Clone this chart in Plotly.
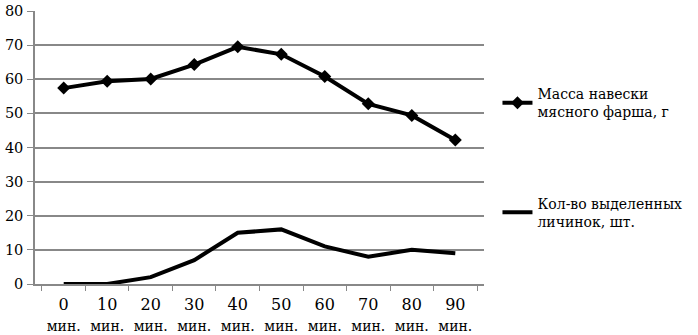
import plotly.graph_objects as go

minutes = ["0", "10", "20", "30", "40", "50", "60", "70", "80", "90"]
mass = [57.4, 59.4, 60.1, 64.3, 69.5, 67.3, 60.8, 52.8, 49.4, 42.2]
larvae = [0, 0, 2, 7, 15, 16, 11, 8, 10, 9]
y_ticks = [0, 10, 20, 30, 40, 50, 60, 70, 80]

FONT = "DejaVu Serif"
cats = [f"{m}<br><span style='font-size:14px'>мин.</span>" for m in minutes]

fig = go.Figure()
fig.add_trace(go.Scatter(
    x=cats, y=mass, mode="lines+markers",
    name="Масса навески<br>мясного фарша, г",
    line=dict(color="black", width=4),
    marker=dict(symbol="diamond", size=10, color="black"),
    legendgroup="a",
))
fig.add_trace(go.Scatter(
    x=cats, y=larvae, mode="lines",
    name="Кол-во выделенных<br>личинок, шт.",
    line=dict(color="black", width=4),
    legendgroup="b",
))

fig.update_layout(
    width=698, height=335,
    margin=dict(l=35, r=210, t=11, b=51),
    paper_bgcolor="white", plot_bgcolor="white",
    font=dict(family=FONT, size=14, color="black"),
    legend=dict(x=1.03, y=0.754, xanchor="left", yanchor="top",
                tracegroupgap=70, font=dict(family=FONT, size=14, color="black"),
                itemwidth=30),
    showlegend=True,
)
fig.update_xaxes(
    type="category", tickson="boundaries", ticks="outside", ticklen=5,
    tickcolor="#888", showline=True, linecolor="#888", linewidth=1.5,
    showgrid=False, tickfont=dict(family=FONT, size=16, color="black"),
    tickangle=0, automargin=False, ticklabelstandoff=5,
)
fig.update_yaxes(
    range=[0, 80], tickvals=y_ticks, ticks="outside", ticklen=6, tickcolor="#888",
    showline=True, linecolor="#888", linewidth=1.5,
    showgrid=True, gridcolor="#888", gridwidth=1.5, zeroline=False,
    tickfont=dict(family=FONT, size=14.5, color="black"), automargin=False,
    ticklabelstandoff=1,
)

fig.write_html("out.html")
